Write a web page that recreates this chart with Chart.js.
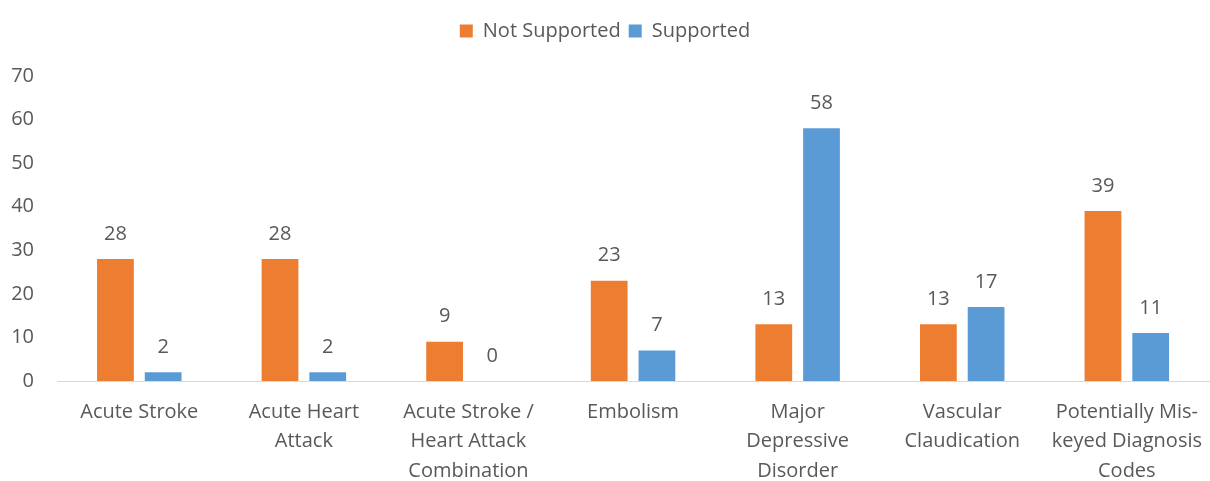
<!DOCTYPE html>
<html>
<head>
<meta charset="utf-8">
<script src="https://cdn.jsdelivr.net/npm/chart.js@4/dist/chart.umd.min.js"></script>
<style>
  body { margin: 0; background: #fff; }
</style>
</head>
<body>
<canvas id="supportChart" width="1210" height="481"></canvas>
<script>
// categories and counts
const categories = [
    'Acute Stroke',
    ['Acute Heart', 'Attack'],
    ['Acute Stroke /', 'Heart Attack', 'Combination'],
    'Embolism',
    ['Major', 'Depressive', 'Disorder'],
    ['Vascular', 'Claudication'],
    ['Potentially Mis-', 'keyed Diagnosis', 'Codes']
];
const notSupported = [28, 28, 9, 23, 13, 13, 39];
const supported = [2, 2, 0, 7, 58, 17, 11];
const yTicks = [0, 10, 20, 30, 40, 50, 60, 70];

const textColor = '#595959';
const fontFamily = "'Open Sans', 'Liberation Sans', sans-serif";
const fontSize = 20;

// draws the value above each bar
const valueLabels = {
    id: 'valueLabels',
    afterDatasetsDraw(chart) {
        const ctx = chart.ctx;
        ctx.save();
        ctx.font = fontSize + 'px ' + fontFamily;
        ctx.fillStyle = textColor;
        ctx.textAlign = 'center';
        ctx.textBaseline = 'middle';
        chart.data.datasets.forEach((ds, i) => {
            const meta = chart.getDatasetMeta(i);
            meta.data.forEach((bar, j) => {
                ctx.fillText(String(ds.data[j]), bar.x, bar.y - 25);
            });
        });
        ctx.restore();
    }
};

const ctx = document.getElementById('supportChart').getContext('2d');
new Chart(ctx, {
    type: 'bar',
    data: {
        labels: categories,
        datasets: [{
            label: 'Not Supported',
            data: notSupported,
            backgroundColor: '#ED7D31'
        }, {
            label: 'Supported',
            data: supported,
            backgroundColor: '#5B9BD5'
        }]
    },
    options: {
        responsive: false,
        animation: false,
        categoryPercentage: 0.58,
        barPercentage: 0.77,
        layout: { padding: { top: 13, right: 0, bottom: 0, left: 0 } },
        plugins: {
            legend: {
                position: 'top',
                labels: {
                    boxWidth: 13,
                    boxHeight: 13,
                    padding: 8,
                    color: textColor,
                    font: { size: fontSize, family: fontFamily }
                }
            },
            tooltip: { enabled: false }
        },
        scales: {
            x: {
                grid: { display: false },
                border: { display: true, color: '#d9d9d9', width: 1 },
                ticks: {
                    color: textColor,
                    maxRotation: 0,
                    autoSkip: false,
                    padding: 8,
                    font: { size: fontSize, family: fontFamily, lineHeight: 1.48 }
                },
                afterFit(scale) { scale.height = 100; }
            },
            y: {
                min: 0,
                max: 70,
                grid: { display: false },
                border: { display: false },
                afterBuildTicks(scale) {
                    scale.ticks = yTicks.map(v => ({ value: v }));
                },
                ticks: {
                    color: textColor,
                    padding: 15,
                    font: { size: fontSize, family: fontFamily }
                },
                afterFit(scale) { scale.width = 57; }
            }
        }
    },
    plugins: [valueLabels, {
        id: 'legendSpace',
        beforeInit(chart) {
            const origFit = chart.legend.fit;
            chart.legend.fit = function () {
                origFit.bind(chart.legend)();
                this.height = 63;
            };
        }
    }]
});
</script>
</body>
</html>
